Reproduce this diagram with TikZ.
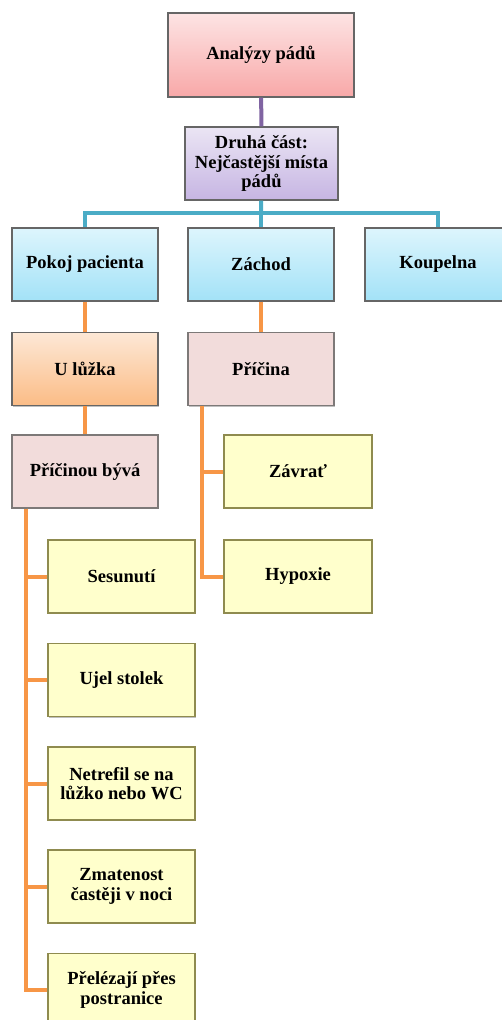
\documentclass[tikz,border=0pt]{standalone}
\usepackage{fontspec}
\setmainfont{Liberation Serif}
\usetikzlibrary{shadows}
\definecolor{pinkT}{HTML}{FDE4E4}
\definecolor{pinkB}{HTML}{F8A8A8}
\definecolor{lilaT}{HTML}{EBE5F4}
\definecolor{lilaB}{HTML}{C6B5E3}
\definecolor{blueT}{HTML}{DDF5FD}
\definecolor{blueB}{HTML}{A3E2F7}
\definecolor{oranT}{HTML}{FDE8D6}
\definecolor{oranB}{HTML}{FBBC86}
\definecolor{rose}{HTML}{F2DCDB}
\definecolor{leafy}{HTML}{FFFFCC}
\definecolor{purpleline}{HTML}{8064A2}
\definecolor{tealline}{HTML}{4BACC6}
\definecolor{orangeline}{HTML}{F79646}

\begin{document}
\begin{tikzpicture}[x=1pt,y=-1pt,
    box/.style={draw=gray!80!black, line width=1.3pt, minimum width=146pt, minimum height=73pt,
        inner sep=2pt, align=center, font=\fontsize{18.5}{19.5}\selectfont\bfseries,
        drop shadow={shadow xshift=1.3pt,shadow yshift=-1.3pt,opacity=.5}},
    rootbox/.style={box, top color=pinkT, bottom color=pinkB, minimum width=186pt, minimum height=84pt},
    partbox/.style={box, top color=lilaT, bottom color=lilaB, minimum width=153pt},
    placebox/.style={box, top color=blueT, bottom color=blueB},
    bedbox/.style={box, top color=oranT, bottom color=oranB},
    causebox/.style={box, fill=rose, draw=gray!75!rose!80!black},
    leafbox/.style={box, fill=leafy, draw=olive!45!gray, minimum width=147pt},
    link/.style={line width=4pt}]
    \useasboundingbox (0,0) rectangle (502,1020);
    % top
    \node[rootbox] (analyzy) at (261,55) {Analýzy pádů};
    \node[partbox] (druha) at (261.5,163.5) {Druhá část:\\Nejčastější místa\\pádů};
    % mista
    \node[placebox] (pokoj) at (85,264.5) {Pokoj pacienta};
    \node[placebox] (zachod) at (261,264.5) {Záchod};
    \node[placebox] (koupelna) at (438,264.5) {Koupelna};
    \node[bedbox] (luzka) at (85,369) {U lůžka};
    \node[causebox] (pricina) at (261,369) {Příčina};
    \node[causebox] (pricinou) at (85,471.5) {Příčinou bývá};
    % zachod - priciny
    \node[leafbox, minimum width=148pt] (zavrat) at (298,471.5) {Závrať};
    \node[leafbox, minimum width=148pt] (hypoxie) at (298,576.5) {Hypoxie};
    % u luzka - priciny
    \node[leafbox] (sesunuti) at (121.5,576.5) {Sesunutí};
    \node[leafbox] (stolek) at (121.5,680) {Ujel stolek};
    \node[leafbox] (netrefil) at (121.5,783.5) {Netrefil se na\\lůžko nebo WC};
    \node[leafbox] (zmatenost) at (121.5,886.5) {Zmatenost\\častěji v noci};
    \node[leafbox] (prelezaji) at (121.5,990) {Přelézají přes\\postranice};

    \draw[link,purpleline] (analyzy) -- (druha);
    \coordinate (bus) at (261,213);
    \draw[link,tealline] (druha) -- (bus);
    \draw[link,tealline] (bus) -| (pokoj.north);
    \draw[link,tealline] (bus) -- (zachod.north);
    \draw[link,tealline] (bus) -| (koupelna.north);
    \draw[link,orangeline] (pokoj) -- (luzka);
    \draw[link,orangeline] (luzka) -- (pricinou);
    \draw[link,orangeline] (zachod) -- (pricina);
    \coordinate (rspine) at ([xshift=15pt]pricina.south west);
    \draw[link,orangeline] (rspine) |- (zavrat.west);
    \draw[link,orangeline] (rspine) |- (hypoxie.west);
    \coordinate (lspine) at ([xshift=15pt]pricinou.south west);
    \draw[link,orangeline] (lspine) |- (sesunuti.west);
    \draw[link,orangeline] (lspine) |- (stolek.west);
    \draw[link,orangeline] (lspine) |- (netrefil.west);
    \draw[link,orangeline] (lspine) |- (zmatenost.west);
    \draw[link,orangeline] (lspine) |- (prelezaji.west);
\end{tikzpicture}
\end{document}
